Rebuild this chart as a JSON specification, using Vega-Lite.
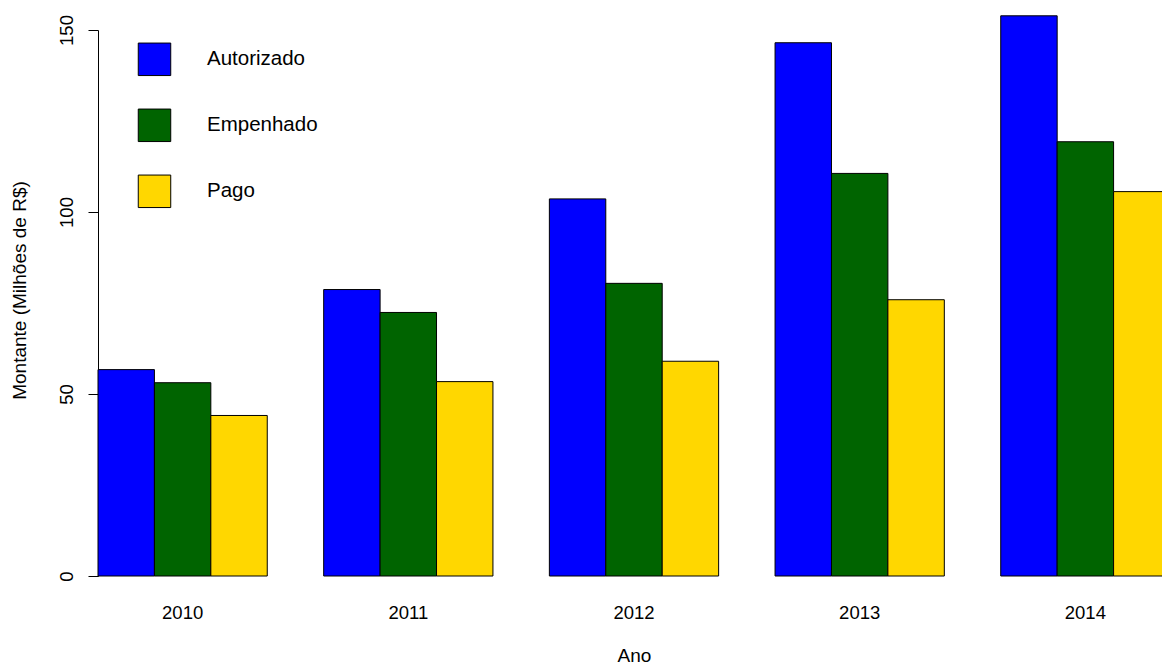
{
  "$schema": "https://vega.github.io/schema/vega-lite/v6.json",
  "autosize": {"type": "none"},
  "width": 1064,
  "height": 546,
  "padding": {"left": 98, "top": 30, "right": 0, "bottom": 88},
  "background": "white",
  "config": {
    "view": {"stroke": null},
    "font": "Liberation Sans",
    "axis": {"grid": false, "labelColor": "#000", "titleColor": "#000", "titleFontWeight": "normal", "labelFont": "Liberation Sans", "titleFont": "Liberation Sans"}
  },
  "data": {
    "values": [
      {"ano": "2010", "tipo": "Autorizado", "valor": 56.7},
      {"ano": "2010", "tipo": "Empenhado", "valor": 53.1},
      {"ano": "2010", "tipo": "Pago", "valor": 44.1},
      {"ano": "2011", "tipo": "Autorizado", "valor": 78.7},
      {"ano": "2011", "tipo": "Empenhado", "valor": 72.4},
      {"ano": "2011", "tipo": "Pago", "valor": 53.4},
      {"ano": "2012", "tipo": "Autorizado", "valor": 103.6},
      {"ano": "2012", "tipo": "Empenhado", "valor": 80.4},
      {"ano": "2012", "tipo": "Pago", "valor": 59.0},
      {"ano": "2013", "tipo": "Autorizado", "valor": 146.5},
      {"ano": "2013", "tipo": "Empenhado", "valor": 110.6},
      {"ano": "2013", "tipo": "Pago", "valor": 75.9},
      {"ano": "2014", "tipo": "Autorizado", "valor": 153.9},
      {"ano": "2014", "tipo": "Empenhado", "valor": 119.3},
      {"ano": "2014", "tipo": "Pago", "valor": 105.6}
    ]
  },
  "mark": {"type": "bar", "stroke": "#000", "strokeWidth": 1, "clip": false},
  "encoding": {
    "x": {
      "field": "ano", "type": "ordinal",
      "scale": {"range": [0, 1072], "paddingInner": 0.25, "paddingOuter": 0},
      "axis": {
        "title": "Ano", "labelAngle": 0, "domain": false, "ticks": false, "tickSize": 0,
        "labelFontSize": 18.5, "labelBaseline": "alphabetic", "labelPadding": 42,
        "titleFontSize": 19, "titleBaseline": "alphabetic", "titleY": 85, "titleX": 536, "titleAlign": "center"
      }
    },
    "xOffset": {
      "field": "tipo", "type": "nominal",
      "sort": ["Autorizado", "Empenhado", "Pago"],
      "scale": {"paddingInner": 0, "paddingOuter": 0}
    },
    "y": {
      "field": "valor", "type": "quantitative",
      "scale": {"domain": [0, 150], "nice": false},
      "axis": {
        "title": "Montante (Milhões de R$)", "values": [0, 50, 100, 150],
        "domainColor": "#000", "tickColor": "#000", "tickSize": 10,
        "labelAngle": -90, "labelAlign": "center", "labelBaseline": "alphabetic", "labelPadding": 16,
        "labelFontSize": 18.5,
        "titleFontSize": 19, "titleAngle": 270, "titleX": -73, "titleY": 260, "titleAlign": "center", "titleBaseline": "alphabetic"
      }
    },
    "color": {
      "field": "tipo", "type": "nominal",
      "sort": ["Autorizado", "Empenhado", "Pago"],
      "scale": {"domain": ["Autorizado", "Empenhado", "Pago"], "range": ["#0000FF", "#006400", "#FFD700"]},
      "legend": {
        "title": null, "orient": "none", "legendX": 39.5, "legendY": 12.3,
        "padding": 0, "symbolType": "square", "symbolSize": 1056,
        "symbolStrokeColor": "#000", "symbolStrokeWidth": 1, "symbolOpacity": 1,
        "labelFontSize": 20.5, "labelColor": "#000", "labelFont": "Liberation Sans",
        "labelOffset": 35.5, "rowPadding": 28, "labelLimit": 300
      }
    }
  }
}
